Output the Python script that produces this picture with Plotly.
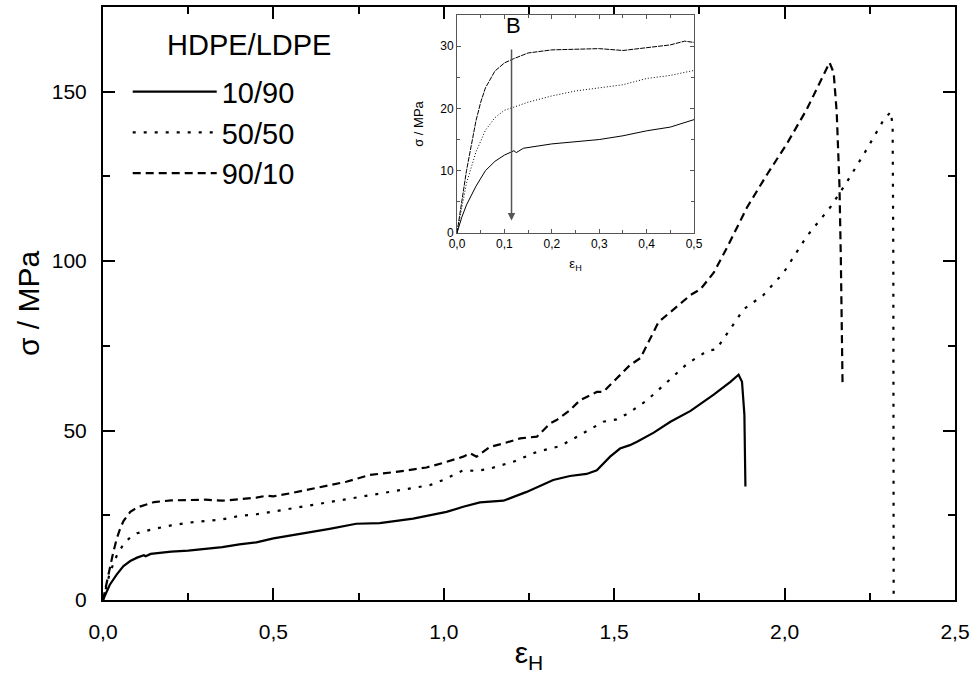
import plotly.graph_objects as go

# strain (eps_H) and stress (MPa)
x_10_90 = [0, 0.01, 0.02, 0.04, 0.06, 0.08, 0.1, 0.12, 0.125, 0.14, 0.2, 0.25, 0.3, 0.35, 0.4,
           0.45, 0.5, 0.55, 0.6, 0.665, 0.743, 0.812, 0.91, 1.008, 1.057, 1.106, 1.175, 1.243,
           1.321, 1.37, 1.419, 1.449, 1.488, 1.517, 1.546, 1.567, 1.616, 1.665, 1.724, 1.792,
           1.841, 1.865, 1.875, 1.882, 1.885]
y_10_90 = [0, 2.5, 4.5, 7.5, 10, 11.5, 12.5, 13.2, 12.9, 13.6, 14.3, 14.6, 15.0, 15.6, 16.4,
           17.0, 18.2, 19.0, 19.8, 21.0, 22.5, 22.7, 24.0, 26.0, 27.5, 28.8, 29.3, 31.9,
           35.4, 36.6, 37.2, 38.3, 42.3, 44.7, 45.7, 46.7, 49.4, 52.6, 55.8, 60.6,
           64.4, 66.5, 64.4, 54.7, 33.5]

x_50_50 = [0, 0.01, 0.02, 0.04, 0.06, 0.08, 0.1, 0.12, 0.15, 0.2, 0.25, 0.3, 0.35, 0.4, 0.45,
           0.5, 0.616, 0.714, 0.812, 0.959, 0.998, 1.057, 1.096, 1.136, 1.204, 1.273, 1.341,
           1.4, 1.468, 1.507, 1.541, 1.597, 1.714, 1.773, 1.8, 1.88, 1.938, 1.997, 2.065,
           2.134, 2.183, 2.241, 2.29, 2.312, 2.317, 2.319, 2.32]
y_50_50 = [0, 4, 8, 13, 16.5, 18.5, 19.7, 20.2, 21, 22, 22.8, 23.3, 23.8, 24.8, 25.3,
           26.1, 28, 29.6, 31.4, 33.9, 35.4, 38.3, 38.1, 38.8, 40.8, 43.7, 45.4,
           48.7, 52.6, 53.3, 55.1, 59, 69.7, 73.5, 74, 85.8, 90, 96.6, 107.3,
           115.9, 123.4, 133, 141.6, 144.1, 139.5, 100.9, 1.6]

x_90_10 = [0, 0.01, 0.02, 0.03, 0.04, 0.05, 0.06, 0.08, 0.1, 0.12, 0.15, 0.2, 0.25, 0.3, 0.35,
           0.4, 0.45, 0.48, 0.5, 0.55, 0.616, 0.714, 0.782, 0.86, 0.949, 1.0, 1.057, 1.077,
           1.096, 1.136, 1.175, 1.224, 1.273, 1.312, 1.331, 1.37, 1.4, 1.429, 1.449, 1.468,
           1.497, 1.546, 1.577, 1.606, 1.63, 1.724, 1.753, 1.792, 1.831, 1.89, 1.948, 2.007,
           2.065, 2.132, 2.144, 2.153, 2.161, 2.165, 2.17]
y_90_10 = [0, 5, 10, 14, 18, 21, 23.3, 26, 27.3, 28, 28.9, 29.4, 29.5, 29.6, 29.3,
           29.8, 30.2, 30.8, 30.6, 31.5, 32.9, 34.9, 36.9, 37.8, 39.1, 40.5, 42.3, 43.3,
           42.3, 45.2, 46.2, 47.7, 48.2, 52.1, 53.1, 56, 59, 60.5, 61.4, 61.4,
           64.4, 69.3, 71.4, 77.3, 82, 90, 91.7, 96.6, 104, 115.9, 125.5, 134.7,
           144.8, 158.6, 155.6, 143.8, 122.3, 100.9, 64]

blends = ["10/90", "50/50", "90/10"]
dash_main = ["solid", "3px,8px", "8px,5px"]
dash_inset = ["solid", "1px,2px", "5px,1px"]
series = [(x_10_90, y_10_90), (x_50_50, y_50_50), (x_90_10, y_90_10)]

FONT = "Liberation Sans, Arial, sans-serif"

fig = go.Figure()

for name, (xs, ys), d in zip(blends, series, dash_main):
    fig.add_trace(go.Scatter(x=xs, y=ys, mode="lines", name=name,
                             line=dict(color="black", width=2.2, dash=d)))

# inset: same curves, first 0.5 of strain
for name, (xs, ys), d in zip(blends, series, dash_inset):
    xi = [a for a in xs if a <= 0.5]
    yi = ys[:len(xi)]
    fig.add_trace(go.Scatter(x=xi, y=yi, mode="lines", showlegend=False,
                             line=dict(color="black", width=1, dash=d),
                             xaxis="x2", yaxis="y2"))

main_axis = dict(showline=True, linecolor="black", linewidth=2, mirror="ticks",
                 ticks="inside", ticklen=12, tickwidth=1.5, tickcolor="black",
                 showgrid=False, zeroline=False, automargin=False,
                 tickfont=dict(size=21, color="black", family=FONT))
inset_axis = dict(showline=True, linecolor="#555", linewidth=1, mirror="ticks",
                  ticks="inside", ticklen=4, tickwidth=1, tickcolor="#555",
                  showgrid=False, zeroline=False, automargin=False,
                  tickfont=dict(size=12, color="black", family=FONT))

fig.update_layout(
    width=970, height=681,
    margin=dict(l=103, r=15, t=7, b=81),
    paper_bgcolor="white", plot_bgcolor="white",
    separators=",.",
    font=dict(family=FONT, color="black"),
    xaxis=dict(main_axis, range=[0, 2.5], dtick=0.5, tickformat=".1f",
               ticklabelstandoff=12,
               minor=dict(dtick=0.25, ticks="inside", ticklen=7, tickcolor="black"),
               title=dict(text="ε<sub>H</sub>", font=dict(size=30), standoff=0)),
    yaxis=dict(main_axis, range=[0, 175], dtick=50, ticklabelstandoff=10,
               minor=dict(dtick=25, ticks="inside", ticklen=7, tickcolor="black"),
               title=dict(text="σ / MPa", font=dict(size=30), standoff=3)),
    xaxis2=dict(inset_axis, domain=[0.4155, 0.6937], anchor="y2", range=[0, 0.5],
                dtick=0.1, tickformat=".1f",
                minor=dict(dtick=0.05, ticks="inside", ticklen=3, tickcolor="#555"),
                title=dict(text="ε<sub>H</sub>", font=dict(size=13), standoff=8)),
    yaxis2=dict(inset_axis, domain=[0.619, 0.9865], anchor="x2", range=[0, 35],
                dtick=10,
                minor=dict(dtick=5, ticks="inside", ticklen=3, tickcolor="#555"),
                title=dict(text="σ / MPa", font=dict(size=13), standoff=13)),
    legend=dict(x=0.029, y=0.9, xanchor="left", yanchor="top",
                bgcolor="rgba(0,0,0,0)", itemwidth=84,
                font=dict(size=29, family=FONT, color="black")),
    showlegend=True,
)

# legend heading
fig.add_annotation(x=(165 - 103) / 852, y=(600 - 45) / 593, xref="paper", yref="paper",
                   text="HDPE/LDPE", showarrow=False, xanchor="left", yanchor="middle",
                   font=dict(size=29, family=FONT, color="black"))

# "B" marker with arrow in the inset
fig.add_annotation(x=0.115, y=2, xref="x2", yref="y2", ax=0.115, ay=29.7,
                   axref="x2", ayref="y2", showarrow=True, arrowhead=2,
                   arrowsize=1, arrowwidth=1.5, arrowcolor="#555", text="")
fig.add_annotation(x=0.12, y=33.3, xref="x2", yref="y2", text="B", showarrow=False,
                   font=dict(size=22, family=FONT, color="black"))

fig.write_html("out.html", config={"displayModeBar": False},
               post_script="document.body.style.margin='0';")
